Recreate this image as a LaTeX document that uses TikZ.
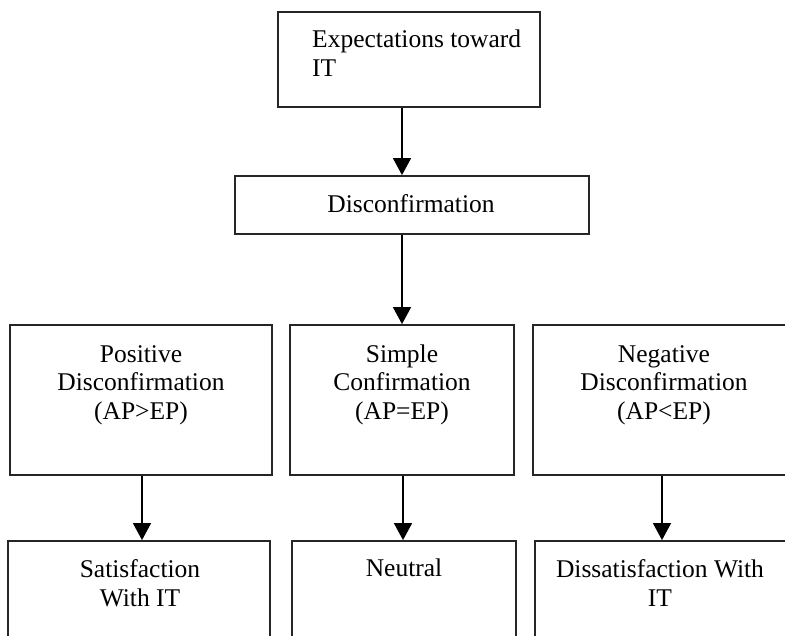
\documentclass[tikz,border=0pt]{standalone}
\usepackage{fontspec}
\setmainfont{Liberation Serif}
\usetikzlibrary{arrows.meta}
\begin{document}
\begin{tikzpicture}[x=1pt,y=-1pt,
  box/.style={draw=black!85, line width=1.8pt, rectangle, inner sep=0pt},
  lbl/.style={inner sep=0pt, align=center, font=\fontsize{25.5}{29}\selectfont, anchor=base},
  arr/.style={line width=1.6pt, -{Triangle[width=18pt,length=17pt]}}]
\useasboundingbox (0,0) rectangle (785,636);
\clip (0,0) rectangle (785,636);
\fill[white] (0,0) rectangle (785,636);
% boxes
\node[box, line width=2.8pt, minimum width=262pt, minimum height=95pt] (top) at (409,59.5) {};
\node[box, minimum width=354pt, minimum height=58pt] (disc) at (412,205) {};
\node[box, minimum width=262pt, minimum height=150pt] (mid1) at (141,400) {};
\node[box, minimum width=224pt, minimum height=150pt] (mid2) at (402,400) {};
\node[box, minimum width=300pt, minimum height=150pt] (mid3) at (683,400) {};
\node[box, minimum width=262pt, minimum height=159pt] (bot1) at (139,620.5) {};
\node[box, minimum width=224pt, minimum height=159pt] (bot2) at (404,620.5) {};
\node[box, minimum width=300pt, minimum height=159pt] (bot3) at (685,620.5) {};
% texts (anchor base = last line)
\node[lbl, align=left, anchor=base west] (ttop) at (312,77) {Expectations toward\\IT};
\node[lbl] (tdisc) at (411,213) {Disconfirmation};
\node[lbl] (tmid1) at (141,420) {Positive\\Disconfirmation\\(AP>EP)};
\node[lbl] (tmid2) at (402,420) {Simple\\Confirmation\\(AP=EP)};
\node[lbl] (tmid3) at (664,420) {Negative\\Disconfirmation\\(AP<EP)};
\node[lbl] (tbot1) at (140,606) {Satisfaction\\With IT};
\node[lbl] (tbot2) at (404,576) {Neutral};
\node[lbl] (tbot3) at (660,606) {Dissatisfaction With\\IT};
% arrows
\draw[arr] ([xshift=-7pt]top.south) -- ([xshift=-10pt]disc.north);
\draw[arr] ([xshift=-10pt]disc.south) -- (mid2.north);
\draw[arr] ([xshift=1pt]mid1.south) -- ([xshift=3pt]bot1.north);
\draw[arr] ([xshift=1pt]mid2.south) -- ([xshift=-1pt]bot2.north);
\draw[arr] ([xshift=-21pt]mid3.south) -- ([xshift=-23pt]bot3.north);
\end{tikzpicture}
\end{document}
